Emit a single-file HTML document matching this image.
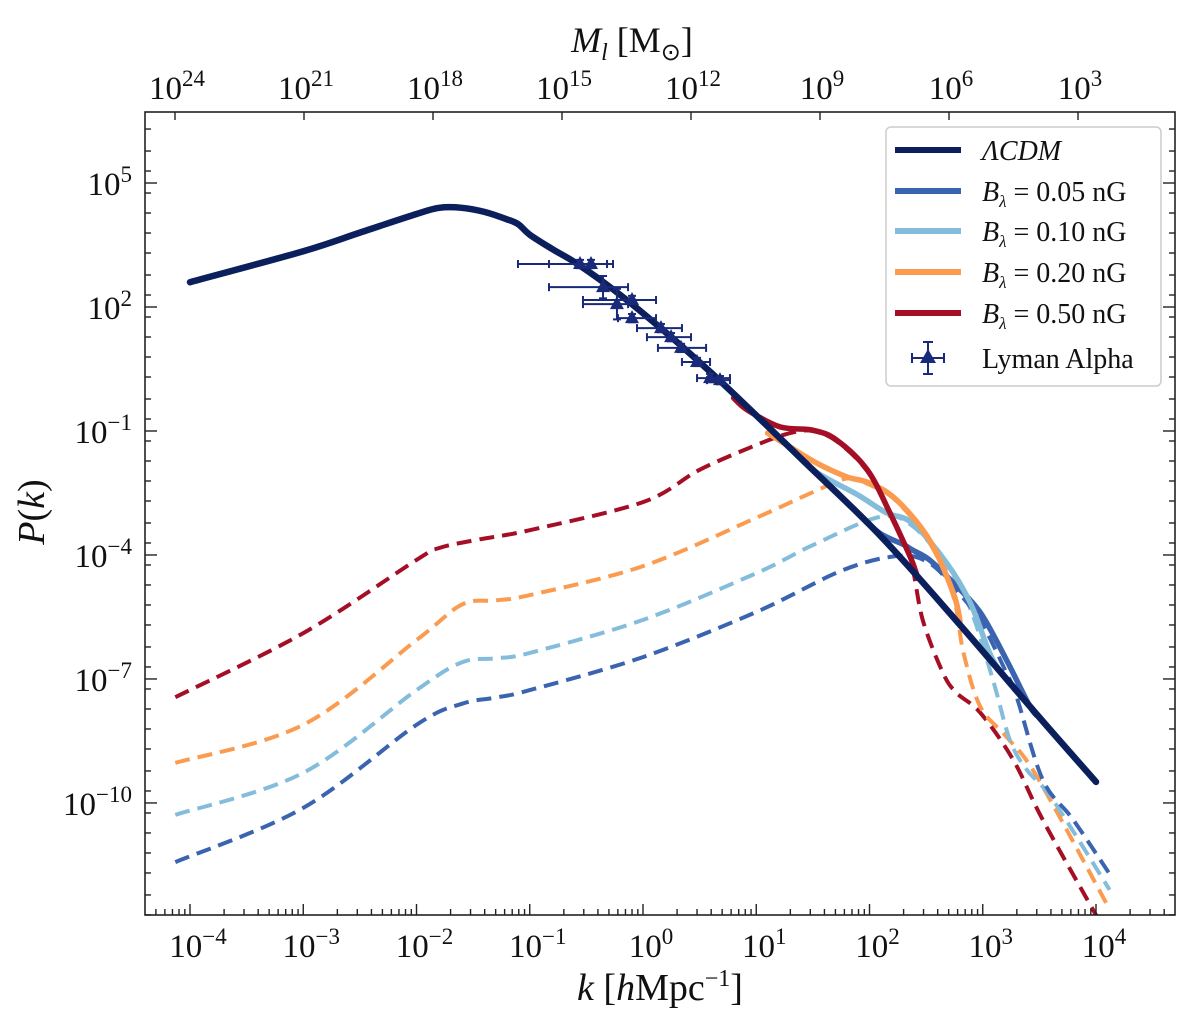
<!DOCTYPE html>
<html><head><meta charset="utf-8"><style>
html,body{margin:0;padding:0;background:#fff;}
svg{display:block;font-family:"Liberation Serif",serif;}
</style></head><body>
<svg id="chart" width="1200" height="1029" viewBox="0 0 1200 1029" xmlns="http://www.w3.org/2000/svg">
<rect x="0" y="0" width="1200" height="1029" fill="#fff"/>
<defs><clipPath id="plotclip"><rect x="145" y="112" width="1030" height="803"/></clipPath></defs>
<g id="series" clip-path="url(#plotclip)"></g>
<g id="axes"></g>
<g id="legend"></g>
</svg>
<script>
// ---- data (log10 k, log10 P) ----
const lcdmK = [-4, -3, -2.5, -2, -1.8, -1.6, -1.4, -1.2, -1.1, -1, -0.8, -0.6, -0.3, 0, 0.3, 0.7, 1.4, 2.09, 2.77, 3.5, 4];
const lcdmP = [2.6, 3.35, 3.8, 4.25, 4.4, 4.4, 4.3, 4.12, 4.0, 3.75, 3.4, 3.08, 2.5, 1.85, 1.15, 0.16, -1.68, -3.52, -5.6, -7.93, -9.49];

const dash005K = [-4.13, -3, -2, -1.6, -1.3, -1, 0, 1, 1.77, 2.27, 2.53, 2.75, 2.98, 3.2, 3.3, 3.53, 3.8, 4.14];
const dash005P = [-11.43, -10.12, -8.11, -7.6, -7.45, -7.27, -6.47, -5.38, -4.36, -4.02, -4.2, -4.8, -5.6, -6.8, -7.44, -9.44, -10.41, -11.8];
const dash010K = [-4.13, -3, -2, -1.6, -1.3, -1, 0, 1, 1.5, 2.09, 2.38, 2.68, 2.89, 3.09, 3.24, 3.39, 3.62, 4.12];
const dash010P = [-10.29, -9.27, -7.27, -6.6, -6.5, -6.37, -5.57, -4.44, -3.76, -3.08, -3.3, -4.25, -5.3, -7.02, -8.48, -9.2, -9.93, -12.1];
const dash020K = [-4.13, -3, -2, -1.6, -1.3, -1, 0, 1, 1.5, 1.8, 2.0, 2.24, 2.53, 2.74, 2.83, 2.98, 3.21, 3.48, 4.1];
const dash020P = [-9.03, -8.11, -6.06, -5.2, -5.1, -4.97, -4.27, -3.1, -2.48, -2.15, -2.3, -2.7, -3.7, -5.0, -6.37, -7.68, -8.4, -9.37, -12.47];
const dash050K = [-4.13, -3, -2, -1.8, -1.48, -1, 0, 0.5, 1, 1.3, 1.5, 1.71, 1.98, 2.18, 2.36, 2.47, 2.65, 2.77, 2.98, 3.27, 3.53, 4.01];
const dash050P = [-7.44, -5.89, -4.12, -3.83, -3.64, -3.4, -2.72, -1.94, -1.34, -1.05, -1.0, -1.25, -1.97, -3.0, -4.1, -5.57, -6.86, -7.34, -7.82, -8.96, -10.41, -12.76];

const solid005K = [1.9, 2.09, 2.3, 2.38, 2.53, 2.75, 2.98, 3.21, 3.42, 3.5];
const solid005P = [-3.0, -3.47, -3.75, -3.88, -4.12, -4.7, -5.4, -6.54, -7.68, -7.93];
const solid010K = [1.5, 1.65, 1.9, 2.15, 2.38, 2.68, 2.89, 3.06, 3.15];
const solid010P = [-1.95, -2.19, -2.55, -2.98, -3.23, -4.19, -5.16, -6.37, -6.8];
const solid020K = [1.1, 1.3, 1.55, 1.8, 2.0, 2.24, 2.53, 2.74, 2.8];
const solid020P = [-1.05, -1.39, -1.8, -2.11, -2.26, -2.67, -3.64, -4.92, -5.6];
const solid050K = [0.8, 0.92, 1.21, 1.5, 1.71, 1.98, 2.18, 2.36, 2.42];
const solid050P = [-0.2, -0.49, -0.9, -0.98, -1.22, -1.94, -2.98, -4.05, -4.5];

// Lyman alpha points
const lyaK = [-0.556, -0.459, -0.353, -0.230, -0.097, -0.097, 0.159, 0.248, 0.336, 0.477, 0.592, 0.680];
const lyaP = [3.04, 3.04, 2.48, 2.07, 2.17, 1.73, 1.49, 1.27, 1.01, 0.67, 0.28, 0.23];
const lyaKlo = [-1.104, -0.830, -0.830, -0.530, -0.530, -0.221, -0.053, 0.035, 0.132, 0.344, 0.477, 0.565];
const lyaKhi = [-0.318, -0.265, -0.132, -0.132, 0.115, 0.115, 0.344, 0.424, 0.557, 0.592, 0.768, 0.768];
const lyaPerr = [0.1, 0.1, 0.27, 0.37, 0.1, 0.1, 0.1, 0.1, 0.1, 0.1, 0.1, 0.1];

const xTickExp = [-4, -3, -2, -1, 0, 1, 2, 3, 4];
const yTickExp = [-10, -7, -4, -1, 2, 5];
const topTickExp = [24, 21, 18, 15, 12, 9, 6, 3];

// ---- axes functions ----
const X0 = 190.0, XD = 113.25;
const Y0 = 307.0, YD = 41.33;
function xs(lk){ return X0 + (lk + 4) * XD; }
function ys(lp){ return Y0 - (lp - 2) * YD; }
function xm(lm){ return 175 + (24 - lm) * 43.0; }

const NS = "http://www.w3.org/2000/svg";
function mk(tag, attrs, parent){
  const e = document.createElementNS(NS, tag);
  for (const k in attrs) e.setAttribute(k, attrs[k]);
  parent.appendChild(e);
  return e;
}
const S = document.getElementById('series');
const A = document.getElementById('axes');
const L = document.getElementById('legend');

function pathD(K, P){
  const pts = K.map((k,i)=>[xs(k), ys(P[i])]);
  let d = 'M' + pts[0][0].toFixed(1) + ',' + pts[0][1].toFixed(1);
  for (let i=0;i<pts.length-1;i++){
    const p0 = pts[Math.max(0,i-1)], p1 = pts[i], p2 = pts[i+1], p3 = pts[Math.min(pts.length-1,i+2)];
    const c1x = p1[0] + (p2[0]-p0[0])/6, c1y = p1[1] + (p2[1]-p0[1])/6;
    const c2x = p2[0] - (p3[0]-p1[0])/6, c2y = p2[1] - (p3[1]-p1[1])/6;
    d += ' C' + c1x.toFixed(1)+','+c1y.toFixed(1)+' '+c2x.toFixed(1)+','+c2y.toFixed(1)+' '+p2[0].toFixed(1)+','+p2[1].toFixed(1);
  }
  return d;
}
function line(K, P, color, w, dash, name){
  const p = mk('path', {d: pathD(K,P), fill:'none', stroke:color, 'stroke-width':w, 'stroke-linejoin':'round', 'stroke-linecap': dash ? 'butt':'round'}, S);
  if (dash) p.setAttribute('stroke-dasharray', dash);
  
  
}
const C005 = '#3a64b0', C010 = '#84bcdb', C020 = '#fb9b50', C050 = '#a50f26', CL = '#0b1f5c', CE = '#1a2a7a';
const DA = '15 8';
line(dash050K, dash050P, C050, 4, DA, 'dashed-line-050');
line(dash020K, dash020P, C020, 4, DA, 'dashed-line-020');
line(dash010K, dash010P, C010, 4, DA, 'dashed-line-010');
line(dash005K, dash005P, C005, 4, DA, 'dashed-line-005');
line(solid005K, solid005P, C005, 5.5, null, 'solid-line-005');
line(solid010K, solid010P, C010, 5.5, null, 'solid-line-010');
line(solid020K, solid020P, C020, 5.5, null, 'solid-line-020');
line(solid050K, solid050P, C050, 5.5, null, 'solid-line-050');
line(lcdmK, lcdmP, CL, 6.5, null, 'lcdm-line');

for (let i=0;i<lyaK.length;i++){
  const g = mk('g', {}, S);
  
  
  const x = xs(lyaK[i]), y = ys(lyaP[i]);
  const x1 = xs(lyaKlo[i]), x2 = xs(lyaKhi[i]);
  const y1 = ys(lyaP[i]+lyaPerr[i]), y2 = ys(lyaP[i]-lyaPerr[i]);
  mk('line', {x1:x1, y1:y, x2:x2, y2:y, stroke:CE, 'stroke-width':2}, g);
  mk('line', {x1:x1, y1:y-4, x2:x1, y2:y+4, stroke:CE, 'stroke-width':2}, g);
  mk('line', {x1:x2, y1:y-4, x2:x2, y2:y+4, stroke:CE, 'stroke-width':2}, g);
  mk('line', {x1:x, y1:y1, x2:x, y2:y2, stroke:CE, 'stroke-width':2}, g);
  mk('line', {x1:x-4, y1:y1, x2:x+4, y2:y1, stroke:CE, 'stroke-width':2}, g);
  mk('line', {x1:x-4, y1:y2, x2:x+4, y2:y2, stroke:CE, 'stroke-width':2}, g);
  mk('path', {d:`M${x},${y-8} L${x+7},${y+5} L${x-7},${y+5} Z`, fill:CE}, g);
}

const L0=145, R0=1175, T0=112, B0=915;
const fr = mk('rect', {x:L0, y:T0, width:R0-L0, height:B0-T0, fill:'none', stroke:'#222', 'stroke-width':1.6}, A);



function tick(x1,y1,x2,y2){ mk('line',{x1:x1,y1:y1,x2:x2,y2:y2,stroke:'#222','stroke-width':1.4},A); }
function powLabel(x, y, base, exp, anchor, name){
  const t = mk('text', {x:x, y:y, 'font-size':33, fill:'#111', 'text-anchor':anchor}, A);
  
  
  const b = mk('tspan', {}, t); b.textContent = base;
  const e = mk('tspan', {dy:-13, 'font-size':23}, t); e.textContent = exp;
  return t;
}
function expStr(n){ return n < 0 ? '\u2212' + (-n) : String(n); }

for (const e of xTickExp){
  const x = xs(e);
  tick(x, B0, x, B0-11);
  powLabel(x+8, 957, '10', expStr(e), 'middle', 'x-tick-label');
}
for (let d=-5; d<=4; d++){
  for (let m=2;m<=9;m++){
    const x = xs(d + Math.log10(m));
    if (x>L0 && x<R0) tick(x, B0, x, B0-6);
  }
}
for (const e of yTickExp){
  const y = ys(e);
  tick(L0, y, L0+12, y); tick(R0, y, R0-12, y);
  powLabel(132, y+12, '10', expStr(e), 'end', 'y-tick-label');
}
const minorOff = [10, 30, 50, 70, 92, 112];
for (let e=-13; e<=8; e+=3){
  const y0 = ys(e);
  for (const o of minorOff){
    const y = y0 + o;
    if (y>T0 && y<B0){ tick(L0, y, L0+6, y); tick(R0, y, R0-6, y); }
  }
}
for (const e of topTickExp){
  const x = xm(e);
  tick(x, T0, x, T0+8);
  powLabel(x+2, 99, '10', String(e), 'middle', 'top-tick-label');
}

function txt(x,y,size,content,name,extra){
  const t = mk('text', Object.assign({x:x,y:y,'font-size':size,fill:'#111'}, extra||{}), A);
  
  
  t.innerHTML = content;
  return t;
}
txt(660, 1000, 38, '<tspan font-style="italic">k</tspan> [<tspan font-style="italic">h</tspan>Mpc<tspan dy="-14" font-size="24">\u22121</tspan><tspan dy="14">]</tspan>', 'x-axis-title', {'text-anchor':'middle'});
txt(632, 52, 36, '<tspan font-style="italic">M</tspan><tspan font-style="italic" dy="8" font-size="24">l</tspan><tspan dy="-8"> [M</tspan><tspan dy="8" font-size="24">\u2299</tspan><tspan dy="-8">]</tspan>', 'top-axis-title', {'text-anchor':'middle'});
txt(0, 0, 38, '<tspan font-style="italic">P</tspan>(<tspan font-style="italic">k</tspan>)', 'y-axis-title', {'text-anchor':'middle', transform:'translate(44,512) rotate(-90)'});

const lb = mk('rect', {x:886, y:127, width:275, height:259, rx:5, fill:'#fff', stroke:'#ccc', 'stroke-width':1.5}, L);


const legColors = [CL, C005, C010, C020, C050];
const legLabels = ['<tspan font-style="italic">\u039bCDM</tspan>',
  '<tspan font-style="italic">B</tspan><tspan font-style="italic" dy="6" font-size="17">\u03bb</tspan><tspan dy="-6"> = 0.05 nG</tspan>',
  '<tspan font-style="italic">B</tspan><tspan font-style="italic" dy="6" font-size="17">\u03bb</tspan><tspan dy="-6"> = 0.10 nG</tspan>',
  '<tspan font-style="italic">B</tspan><tspan font-style="italic" dy="6" font-size="17">\u03bb</tspan><tspan dy="-6"> = 0.20 nG</tspan>',
  '<tspan font-style="italic">B</tspan><tspan font-style="italic" dy="6" font-size="17">\u03bb</tspan><tspan dy="-6"> = 0.50 nG</tspan>'];
const legY = [150, 191, 231, 272, 313];
for (let i=0;i<5;i++){
  const g = mk('g', {}, L);
  
  
  mk('line', {x1:895, y1:legY[i], x2:961, y2:legY[i], stroke:legColors[i], 'stroke-width':6}, g);
  const t = mk('text', {x:982, y:legY[i]+10, 'font-size':28, fill:'#111'}, g);
  t.innerHTML = legLabels[i];
}
{
  const g = mk('g', {}, L);
  
  
  const x=928, y=358;
  mk('line', {x1:x-16,y1:y,x2:x+16,y2:y,stroke:CE,'stroke-width':2}, g);
  mk('line', {x1:x-16,y1:y-5,x2:x-16,y2:y+5,stroke:CE,'stroke-width':2}, g);
  mk('line', {x1:x+16,y1:y-5,x2:x+16,y2:y+5,stroke:CE,'stroke-width':2}, g);
  mk('line', {x1:x,y1:y-16,x2:x,y2:y+16,stroke:CE,'stroke-width':2}, g);
  mk('line', {x1:x-5,y1:y-16,x2:x+5,y2:y-16,stroke:CE,'stroke-width':2}, g);
  mk('line', {x1:x-5,y1:y+16,x2:x+5,y2:y+16,stroke:CE,'stroke-width':2}, g);
  mk('path', {d:`M${x},${y-9} L${x+8},${y+5} L${x-8},${y+5} Z`, fill:CE}, g);
  const t = mk('text', {x:982, y:y+10, 'font-size':28, fill:'#111'}, g);
  t.textContent = 'Lyman Alpha';
}
</script>
</body></html>
